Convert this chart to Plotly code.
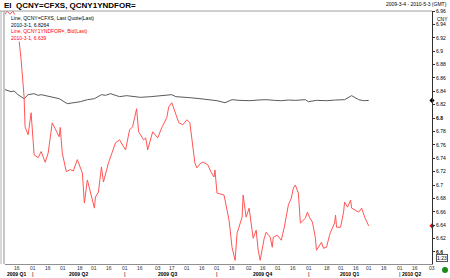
import plotly.graph_objects as go

# ---- data ----
cfxs_dates = ["2009-03-04", "2009-03-10", "2009-03-13", "2009-03-17", "2009-03-23", "2009-03-27",
              "2009-04-02", "2009-04-06", "2009-04-09", "2009-04-14", "2009-04-20", "2009-04-27",
              "2009-05-05", "2009-05-11", "2009-05-18", "2009-05-25", "2009-06-01", "2009-06-08",
              "2009-06-12", "2009-06-17", "2009-06-26", "2009-07-03", "2009-07-10", "2009-07-17",
              "2009-07-27", "2009-08-04", "2009-08-12", "2009-08-17", "2009-08-21", "2009-08-28",
              "2009-09-04", "2009-09-14", "2009-09-24", "2009-10-01", "2009-10-09", "2009-10-16",
              "2009-10-23", "2009-11-03", "2009-11-11", "2009-11-19", "2009-11-27", "2009-12-04",
              "2009-12-11", "2009-12-18", "2009-12-28", "2009-12-31", "2010-01-08", "2010-01-18",
              "2010-01-27", "2010-02-05", "2010-02-12", "2010-02-19", "2010-02-24", "2010-03-01"]
cfxs_values = [6.8425, 6.8395, 6.8405, 6.8350, 6.8290, 6.8350,
               6.8365, 6.8340, 6.8350, 6.8335, 6.8320, 6.8290,
               6.8215, 6.8230, 6.8245, 6.8275, 6.8290, 6.8350,
               6.8340, 6.8365, 6.8320, 6.8335, 6.8320, 6.8310,
               6.8320, 6.8330, 6.8335, 6.8350, 6.8320, 6.8315,
               6.8305, 6.8290, 6.8275, 6.8260, 6.8230, 6.8275,
               6.8265, 6.8260, 6.8270, 6.8275, 6.8265, 6.8260,
               6.8270, 6.8265, 6.8275, 6.8245, 6.8265, 6.8260,
               6.8270, 6.8275, 6.8335, 6.8275, 6.8260, 6.8264]

ndf_dates = ["2009-03-04", "2009-03-06", "2009-03-09", "2009-03-12", "2009-03-16", "2009-03-18",
             "2009-03-20", "2009-03-23", "2009-03-24", "2009-03-27", "2009-03-30", "2009-04-02",
             "2009-04-06", "2009-04-09", "2009-04-13", "2009-04-16", "2009-04-20", "2009-04-22",
             "2009-04-27", "2009-04-28", "2009-04-30", "2009-05-04", "2009-05-08", "2009-05-11",
             "2009-05-15", "2009-05-20", "2009-05-22", "2009-05-25", "2009-06-01", "2009-06-02",
             "2009-06-05", "2009-06-08", "2009-06-10", "2009-06-15", "2009-06-17", "2009-06-22",
             "2009-06-26", "2009-07-02", "2009-07-06", "2009-07-09", "2009-07-13", "2009-07-15",
             "2009-07-20", "2009-07-22", "2009-07-24", "2009-07-29", "2009-08-03", "2009-08-07",
             "2009-08-12", "2009-08-14", "2009-08-17", "2009-08-20", "2009-08-24", "2009-08-28",
             "2009-09-01", "2009-09-04", "2009-09-07", "2009-09-09", "2009-09-11", "2009-09-14",
             "2009-09-17", "2009-09-22", "2009-09-25", "2009-09-28", "2009-09-29", "2009-09-30",
             "2009-10-01", "2009-10-08", "2009-10-09", "2009-10-13", "2009-10-16", "2009-10-19",
             "2009-10-21", "2009-10-26", "2009-10-27", "2009-10-30", "2009-11-02", "2009-11-04",
             "2009-11-06", "2009-11-09", "2009-11-11", "2009-11-13", "2009-11-16", "2009-11-17",
             "2009-11-19", "2009-11-23", "2009-11-25", "2009-11-26", "2009-11-30", "2009-12-02",
             "2009-12-04", "2009-12-07", "2009-12-10", "2009-12-11", "2009-12-14", "2009-12-16",
             "2009-12-18", "2009-12-21", "2009-12-23", "2009-12-28", "2009-12-30", "2010-01-01",
             "2010-01-04", "2010-01-07", "2010-01-08", "2010-01-13", "2010-01-15", "2010-01-18",
             "2010-01-21", "2010-01-22", "2010-01-26", "2010-01-27", "2010-01-28", "2010-02-01",
             "2010-02-04", "2010-02-05", "2010-02-08", "2010-02-11", "2010-02-12", "2010-02-16",
             "2010-02-19", "2010-02-22", "2010-02-25", "2010-03-01"]
ndf_values = [6.955, 6.960, 6.955, 6.960, 6.945, 6.920,
              6.8875, 6.832, 6.787, 6.775, 6.808, 6.745,
              6.741, 6.750, 6.734, 6.748, 6.793, 6.787,
              6.772, 6.786, 6.748, 6.720, 6.723, 6.721,
              6.738, 6.718, 6.673, 6.7075, 6.6655, 6.682,
              6.6895, 6.727, 6.7045, 6.733, 6.742, 6.763,
              6.7675, 6.7525, 6.7825, 6.787, 6.814, 6.7795,
              6.7675, 6.7705, 6.7525, 6.7795, 6.7705, 6.7855,
              6.8005, 6.817, 6.823, 6.8095, 6.793, 6.790,
              6.7975, 6.793, 6.7525, 6.733, 6.7255, 6.7315,
              6.7345, 6.730, 6.7195, 6.712, 6.7225, 6.7045,
              6.688, 6.685, 6.6775, 6.6475, 6.607, 6.5875,
              6.628, 6.652, 6.685, 6.652, 6.6655, 6.640,
              6.6205, 6.6325, 6.6025, 6.5875, 6.613, 6.6205,
              6.6295, 6.622, 6.607, 6.622, 6.625, 6.6205,
              6.6175, 6.637, 6.658, 6.670, 6.6805, 6.6955,
              6.700, 6.688, 6.643, 6.6505, 6.6595, 6.652,
              6.6445, 6.6205, 6.6025, 6.6145, 6.6055, 6.607,
              6.625, 6.6295, 6.643, 6.655, 6.637, 6.637,
              6.6595, 6.6745, 6.667, 6.6775, 6.6655, 6.6625,
              6.6595, 6.6655, 6.652, 6.639]

x_range = ["2009-03-04", "2010-05-03"]
x_tick_dates = ["2009-03-16", "2009-04-01", "2009-04-16", "2009-05-01", "2009-05-18", "2009-06-01",
                "2009-06-16", "2009-07-01", "2009-07-16", "2009-08-03", "2009-08-17", "2009-09-01",
                "2009-09-16", "2009-10-01", "2009-10-16", "2009-11-02", "2009-11-16", "2009-12-01",
                "2009-12-16", "2010-01-01", "2010-01-18", "2010-02-01", "2010-02-16", "2010-03-01",
                "2010-03-16", "2010-04-01", "2010-04-16", "2010-05-03"]
x_tick_text = ["16", "01", "16", "01", "18", "01", "16", "01", "16", "03", "17", "01", "16", "01",
               "16", "02", "16", "01", "16", "01", "18", "01", "16", "01", "16", "01", "16", "03"]
quarter_labels = ["2009 Q1", "2009 Q2", "2009 Q3", "2009 Q4", "2010 Q1", "2010 Q2"]
quarter_label_dates = ["2009-03-15", "2009-05-16", "2009-08-13", "2009-11-15", "2010-02-10", "2010-04-13"]
quarter_starts = ["2009-04-01", "2009-07-01", "2009-10-01", "2010-01-01", "2010-04-01"]

y_tick_vals = [6.6, 6.62, 6.64, 6.66, 6.68, 6.7, 6.72, 6.74, 6.76, 6.78, 6.8, 6.82, 6.84, 6.86,
               6.88, 6.9, 6.92, 6.94, 6.96]
y_tick_text = ["<b>6.6</b>", "6.62", "6.64", "6.66", "6.68", "6.7", "6.72", "6.74", "6.76", "6.78",
               "<b>6.8</b>", "6.82", "6.84", "6.86", "6.88", "6.9", "6.92", "6.94", "6.96"]

FONT = "Liberation Sans, Arial, sans-serif"
RED = "#ff5555"
GREY = "#5a5a5a"

fig = go.Figure()
fig.add_trace(go.Scatter(x=cfxs_dates, y=cfxs_values, mode="lines",
                         line=dict(color=GREY, width=1), hoverinfo="skip"))
fig.add_trace(go.Scatter(x=ndf_dates, y=ndf_values, mode="lines",
                         line=dict(color=RED, width=1), hoverinfo="skip"))
# last-value markers on the right axis
fig.add_trace(go.Scatter(x=[x_range[1], x_range[1]], y=[cfxs_values[-1], ndf_values[-1]],
                         mode="markers", cliponaxis=False,
                         marker=dict(color=["#000000", "#ff0000"], size=4, symbol="diamond"),
                         hoverinfo="skip"))

W, H = 450, 278
L, R, T, B = 5, 18, 11, 14
pw, ph = W - L - R, H - T - B


def px(xp):
    return (xp - L) / pw


def py(yp):
    return (H - B - yp) / ph


ann = []
ann.append(dict(text="<b>EI  QCNY=CFXS, QCNY1YNDFOR=</b>", x=px(2), y=py(5.5), xanchor="left",
                yanchor="middle", font=dict(size=8, color="#000", family=FONT)))
ann.append(dict(text="2009-3-4 - 2010-5-3 (GMT)", x=px(449), y=py(4), xanchor="right",
                yanchor="middle", font=dict(size=5, color="#000", family=FONT)))
ann.append(dict(text="CNY", x=px(435), y=py(19), xanchor="left", yanchor="middle",
                font=dict(size=5, color="#000", family=FONT)))
legend_txt = ("<span style='color:#000'>Line, QCNY=CFXS, Last Quote(Last)<br>"
              "2010-3-1, %.4f</span><br>"
              "<span style='color:#ff0000'>Line, QCNY1YNDFOR=, Bid(Last)<br>"
              "2010-3-1, %.3f</span>" % (cfxs_values[-1], ndf_values[-1]))
ann.append(dict(text=legend_txt, x=px(10), y=py(14), xanchor="left", yanchor="top", align="left",
                bgcolor="#ffffff", borderpad=0,
                font=dict(size=5, color="#000", family=FONT)))
for lab, d in zip(x_tick_text, x_tick_dates):
    ann.append(dict(text=lab, x=d, xref="x", y=py(267.5), yanchor="middle", xanchor="center",
                    font=dict(size=5, color="#333", family=FONT)))
for lab, d in zip(quarter_labels, quarter_label_dates):
    ann.append(dict(text="<b>" + lab + "</b>", x=d, xref="x", y=py(273.5), yanchor="middle",
                    xanchor="center", font=dict(size=5, color="#000", family=FONT)))
for d in quarter_starts:
    ann.append(dict(text="|", x=d, xref="x", y=py(273.5), yanchor="middle", xanchor="center",
                    font=dict(size=6, color="#000", family=FONT)))
ann.append(dict(text="1:23", x=px(442.5), y=py(258), xanchor="center", yanchor="middle",
                bordercolor="#555", borderwidth=1, borderpad=0,
                font=dict(size=5, color="#000", family=FONT)))
for a in ann:
    a.setdefault("xref", "paper")
    a.setdefault("yref", "paper")
    a["showarrow"] = False

shapes = [
    dict(type="line", xref="paper", yref="paper", x0=px(1), x1=px(1), y0=0, y1=1,
         line=dict(color="#b0b0b0", width=1)),
    dict(type="line", xref="paper", yref="paper", x0=px(4), x1=px(4), y0=0, y1=1,
         line=dict(color="#909090", width=1)),
    dict(type="line", xref="paper", yref="paper", x0=px(0), x1=1, y0=1, y1=1,
         line=dict(color="#a0a0a0", width=1)),
    dict(type="circle", xref="paper", yref="paper", x0=px(442), x1=px(448), y0=py(273), y1=py(267),
         fillcolor="#1a8a1a", line=dict(color="#1a8a1a", width=0)),
]

fig.update_layout(
    width=W, height=H,
    margin=dict(l=L, r=R, t=T, b=B, pad=0),
    paper_bgcolor="#ffffff", plot_bgcolor="#ffffff",
    showlegend=False,
    annotations=ann,
    shapes=shapes,
    font=dict(family=FONT, size=5, color="#000"),
    xaxis=dict(type="date", range=x_range, showticklabels=False,
               showgrid=False, zeroline=False, showline=True, linecolor="#909090", linewidth=1,
               ticks=""),
    yaxis=dict(side="right", range=[6.582, 6.96], tickvals=y_tick_vals, ticktext=y_tick_text,
               showgrid=False, zeroline=False, showline=True, linecolor="#303030", linewidth=1,
               ticks="outside", ticklen=2, tickcolor="#303030",
               tickfont=dict(size=5, color="#000", family=FONT)),
)

fig.write_html("out.html")
